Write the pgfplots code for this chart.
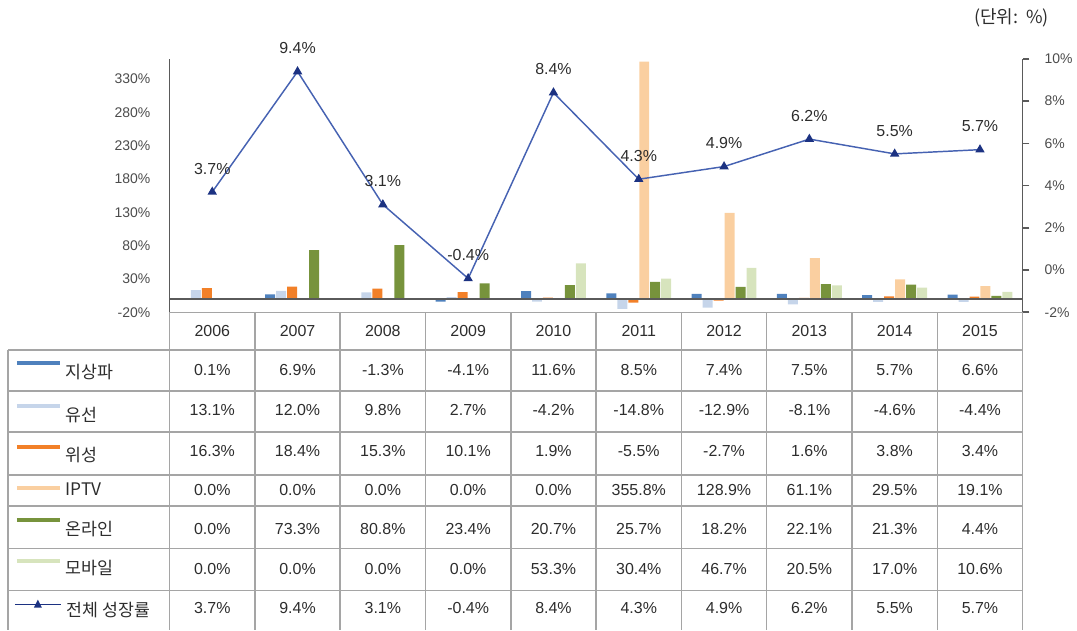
\documentclass[border=0pt]{standalone}
\usepackage{pgfplots}
\pgfplotsset{compat=1.18}
\usepackage{fontspec}
\setmainfont{Liberation Sans}
\newfontfamily\kr{Noto Sans CJK KR}

\definecolor{cTer}{RGB}{79,129,189}
\definecolor{cCab}{RGB}{198,213,234}
\definecolor{cSat}{RGB}{242,128,40}
\definecolor{cIptv}{RGB}{250,207,160}
\definecolor{cOnl}{RGB}{119,147,60}
\definecolor{cMob}{RGB}{215,228,189}
\definecolor{cLine}{RGB}{70,98,178}
\definecolor{cMark}{RGB}{28,50,130}
\definecolor{cGrid}{RGB}{165,165,165}
\definecolor{cAxis}{RGB}{90,90,90}
\definecolor{cTxt}{RGB}{45,45,45}

% one row of the table: y position (px), ten values
\newcommand\tabrow[2]{%
  \foreach \v [count=\i from 0] in {#2}
    {\node[font=\fontsize{12}{14}\selectfont, text=cTxt] at ({212.75+85.5*\i},#1) {\v\%};}}

\begin{document}
\begin{tikzpicture}
  % px grid, y downwards, 1px = 0.75pt
  \begin{scope}[x=0.75pt, y=-0.75pt, shift={(0pt,473.25pt)}]
    \path[use as bounding box] (0,0) rectangle (1077,631);
  \end{scope}

  % bars, left axis
  \begin{axis}[
    at={(127.5pt,238.5pt)}, anchor=south west,
    width=641.25pt, height=190.5pt, scale only axis,
    xmin=-0.5, xmax=9.5, ymin=-20, ymax=360,
    axis x line=none, axis y line*=left,
    axis line style={cAxis, line width=1.2pt},
    ytick={-20,30,80,130,180,230,280,330},
    yticklabels={-20\%,30\%,80\%,130\%,180\%,230\%,280\%,330\%},
    major tick length=0pt,
    yticklabel style={font=\fontsize{10.5}{12}\selectfont, text=cTxt!85, xshift=-11pt},
    ybar=0.75pt, bar width=7.5pt,
  ]
    \addplot[fill=cTer, draw=none] coordinates {(0,0.1) (1,6.9) (2,-1.3) (3,-4.1) (4,11.6) (5,8.5) (6,7.4) (7,7.5) (8,5.7) (9,6.6)};
    \addplot[fill=cCab, draw=none] coordinates {(0,13.1) (1,12.0) (2,9.8) (3,2.7) (4,-4.2) (5,-14.8) (6,-12.9) (7,-8.1) (8,-4.6) (9,-4.4)};
    \addplot[fill=cSat, draw=none] coordinates {(0,16.3) (1,18.4) (2,15.3) (3,10.1) (4,1.9) (5,-5.5) (6,-2.7) (7,1.6) (8,3.8) (9,3.4)};
    \addplot[fill=cIptv, draw=none] coordinates {(0,0) (1,0) (2,0) (3,0) (4,0) (5,355.8) (6,128.9) (7,61.1) (8,29.5) (9,19.1)};
    \addplot[fill=cOnl, draw=none] coordinates {(0,0) (1,73.3) (2,80.8) (3,23.4) (4,20.7) (5,25.7) (6,18.2) (7,22.1) (8,21.3) (9,4.4)};
    \addplot[fill=cMob, draw=none] coordinates {(0,0) (1,0) (2,0) (3,0) (4,53.3) (5,30.4) (6,46.7) (7,20.5) (8,17.0) (9,10.6)};
    \draw[cAxis, line width=1.2pt] (axis cs:-0.5,0) -- (axis cs:9.5,0);
  \end{axis}

  % total growth, right axis
  \begin{axis}[
    at={(127.5pt,238.5pt)}, anchor=south west,
    width=641.25pt, height=190.5pt, scale only axis,
    xmin=-0.5, xmax=9.5, ymin=-2, ymax=10,
    axis x line=none, axis y line*=right,
    axis line style={cAxis, line width=1.2pt},
    ytick={-2,0,2,4,6,8,10},
    yticklabels={-2\%,0\%,2\%,4\%,6\%,8\%,10\%},
    tick align=outside, major tick length=5pt,
    tick style={cAxis, line width=1.2pt},
    yticklabel style={font=\fontsize{10.5}{12}\selectfont, text=cTxt!85, xshift=8pt},
    clip=false,
  ]
    \addplot[cLine, line width=1.1pt, mark=triangle*, mark size=3pt,
      mark options={fill=cMark, draw=cMark},
      nodes near coords, point meta=explicit symbolic,
      every node near coord/.append style={font=\fontsize{12}{14}\selectfont, text=cTxt, anchor=center, yshift=17.5pt}]
      coordinates {(0,3.7) [3.7\%] (1,9.4) [9.4\%] (2,3.1) [3.1\%] (3,-0.4) [-0.4\%] (4,8.4) [8.4\%]
                   (5,4.3) [4.3\%] (6,4.9) [4.9\%] (7,6.2) [6.2\%] (8,5.5) [5.5\%] (9,5.7) [5.7\%]};
  \end{axis}

  % data table
  \begin{scope}[x=0.75pt, y=-0.75pt, shift={(0pt,473.25pt)}]
    \node[font=\kr\fontsize{13.5}{15}\selectfont, text=cTxt] at (1014,18) {(단위:~~\%)};
    \draw[cGrid, line width=1.1pt] (170,313) -- (1025,313);
    \foreach \yy in {351,392,433,476,507,550,592}
      \draw[cGrid, line width=1.1pt] (8,\yy) -- (1025,\yy);
    \draw[cGrid, line width=1.1pt] (8,351) -- (8,631);
    \draw[cGrid, line width=1.1pt] (170,313) -- (170,631);
    \foreach \k in {0,...,8}
      \draw[cGrid, line width=1.1pt] ({255.5+85.5*\k},313) -- ({255.5+85.5*\k},631);
    \draw[cGrid, line width=1.1pt] (1025,313) -- (1025,631);

    \foreach \yr [count=\i from 0] in {2006,2007,2008,2009,2010,2011,2012,2013,2014,2015}
      \node[font=\fontsize{12}{14}\selectfont, text=cTxt] at ({212.75+85.5*\i},332) {\yr};

    \tabrow{371}{0.1,6.9,-1.3,-4.1,11.6,8.5,7.4,7.5,5.7,6.6}
    \tabrow{411}{13.1,12.0,9.8,2.7,-4.2,-14.8,-12.9,-8.1,-4.6,-4.4}
    \tabrow{452}{16.3,18.4,15.3,10.1,1.9,-5.5,-2.7,1.6,3.8,3.4}
    \tabrow{491}{0.0,0.0,0.0,0.0,0.0,355.8,128.9,61.1,29.5,19.1}
    \tabrow{530}{0.0,73.3,80.8,23.4,20.7,25.7,18.2,22.1,21.3,4.4}
    \tabrow{570}{0.0,0.0,0.0,0.0,53.3,30.4,46.7,20.5,17.0,10.6}
    \tabrow{609}{3.7,9.4,3.1,-0.4,8.4,4.3,4.9,6.2,5.5,5.7}

    % legend keys and row names
    \tikzset{lab/.style={anchor=west, font=\kr\fontsize{13}{15}\selectfont, text=cTxt}}
    \draw[cTer, line width=3pt] (17,364) -- (60,364);
    \node[lab] at (61,373) {지상파};
    \draw[cCab, line width=3pt] (17,407) -- (60,407);
    \node[lab] at (61,416) {유선};
    \draw[cSat, line width=3pt] (17,448) -- (60,448);
    \node[lab] at (61,456) {위성};
    \draw[cIptv, line width=3pt] (17,489) -- (60,489);
    \node[lab] at (61,490) {IPTV};
    \draw[cOnl, line width=3pt] (17,521) -- (60,521);
    \node[lab] at (61,530) {온라인};
    \draw[cMob, line width=3pt] (17,562) -- (60,562);
    \node[lab] at (61,569) {모바일};
    \draw[cMark, line width=1pt] (15,606) -- (61,606);
    \fill[cMark] (34,609) -- (42,609) -- (38,601) -- cycle;
    \node[lab] at (62,611) {전체 성장률};
  \end{scope}
\end{tikzpicture}
\end{document}
